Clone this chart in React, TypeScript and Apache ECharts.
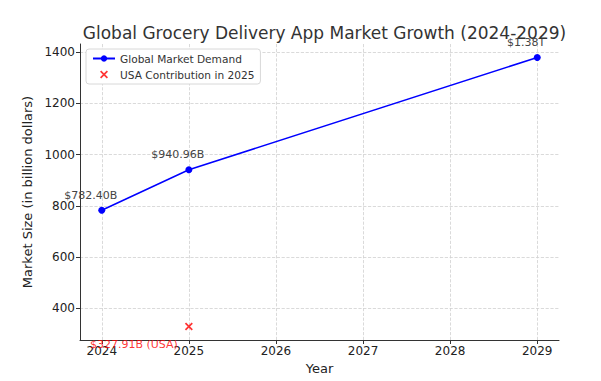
import React, { useEffect, useRef } from "react";
import * as echarts from "echarts";

const years = [2024, 2025, 2029];
const demand = [782.4, 940.96, 1380];
const demandLabels = ["$782.40B", "$940.96B", "$1.38T"];
const usaYears = [2025];
const usaValues = [327.91];
const usaLabels = ["$327.91B (USA)"];

const titleText = "Global Grocery Delivery App Market Growth (2024-2029)";
const FONT = "DejaVu Sans";
const CROSS =
  "path://M0,1.5 L1.5,0 L5,3.5 L8.5,0 L10,1.5 L6.5,5 L10,8.5 L8.5,10 L5,6.5 L1.5,10 L0,8.5 L3.5,5 Z";

export default function App() {
  const ref = useRef<HTMLDivElement>(null);
  useEffect(() => {
    document.body.style.margin = "0";
    if (!ref.current) return;
    const chart = echarts.init(ref.current, null, { renderer: "svg" });
    chart.setOption({
      animation: false,
      backgroundColor: "#ffffff",
      textStyle: { fontFamily: FONT },
      title: {
        text: titleText,
        left: 319.5,
        textAlign: "center",
        top: 19,
        textStyle: { fontFamily: FONT, fontSize: 17, fontWeight: "normal", color: "#333" },
      },
      legend: {
        orient: "vertical",
        left: 86,
        top: 49,
        padding: [4, 6],
        itemGap: 5,
        itemWidth: 22,
        itemHeight: 8,
        backgroundColor: "#fff",
        borderColor: "#d8d8d8",
        borderWidth: 1,
        borderRadius: 3,
        textStyle: { fontFamily: FONT, fontSize: 10.6, color: "#333" },
        data: ["Global Market Demand", "USA Contribution in 2025"],
      },
      grid: { left: 80, right: 42, top: 44, bottom: 41 },
      xAxis: {
        type: "value",
        min: 2023.75,
        max: 2029.25,
        splitNumber: 5,
        name: "Year",
        nameLocation: "middle",
        nameGap: 21,
        nameTextStyle: { fontFamily: FONT, fontSize: 13, color: "#222" },
        axisLine: { lineStyle: { color: "#333", width: 1 } },
        axisTick: { show: true, length: 4, lineStyle: { color: "#333" } },
        axisLabel: {
          fontFamily: FONT,
          fontSize: 12,
          color: "#222",
          margin: 5,
          showMinLabel: false,
          showMaxLabel: false,
          formatter: (v: number) => (Number.isInteger(v) ? String(v) : ""),
        },
        splitLine: {
          show: true,
          showMinLine: false,
          showMaxLine: false,
          lineStyle: { color: "#d0d0d0", type: "dashed", width: 0.8 },
        },
      },
      yAxis: {
        type: "value",
        min: 275.3,
        max: 1432.6,
        splitNumber: 5,
        name: "Market Size (in billion dollars)",
        nameLocation: "middle",
        nameGap: 38,
        nameTextStyle: { fontFamily: FONT, fontSize: 13, color: "#222" },
        axisLine: { show: true, lineStyle: { color: "#333", width: 1 } },
        axisTick: { show: true, length: 4, lineStyle: { color: "#333" } },
        axisLabel: {
          fontFamily: FONT,
          fontSize: 12,
          color: "#222",
          margin: 5,
          showMinLabel: false,
          showMaxLabel: false,
          formatter: (v: number) => (v % 200 === 0 ? String(v) : ""),
        },
        splitLine: {
          show: true,
          showMinLine: false,
          showMaxLine: false,
          lineStyle: { color: "#d0d0d0", type: "dashed", width: 0.8 },
        },
      },
      series: [
        {
          name: "Global Market Demand",
          type: "line",
          data: years.map((y, i) => [y, demand[i]]),
          symbol: "circle",
          symbolSize: 7,
          color: "#0000ff",
          lineStyle: { color: "#0000ff", width: 1.5 },
          itemStyle: { color: "#0000ff" },
          label: {
            show: true,
            position: "inside",
            offset: [-11, -15],
            fontFamily: FONT,
            fontSize: 11,
            color: "#444",
            formatter: (p: any) => demandLabels[p.dataIndex],
          },
        },
        {
          name: "USA Contribution in 2025",
          type: "scatter",
          data: usaYears.map((y, i) => [y, usaValues[i]]),
          symbol: CROSS,
          symbolSize: 8,
          color: "#ff0000",
          itemStyle: { color: "#ff0000" },
          label: {
            show: true,
            position: "inside",
            align: "right",
            verticalAlign: "middle",
            offset: [-11, 18],
            fontFamily: FONT,
            fontSize: 11,
            color: "#ff0000",
            formatter: (p: any) => usaLabels[p.dataIndex],
          },
        },
      ],
    });
    return () => chart.dispose();
  }, []);
  return <div ref={ref} style={{ width: 601, height: 381 }} />;
}
